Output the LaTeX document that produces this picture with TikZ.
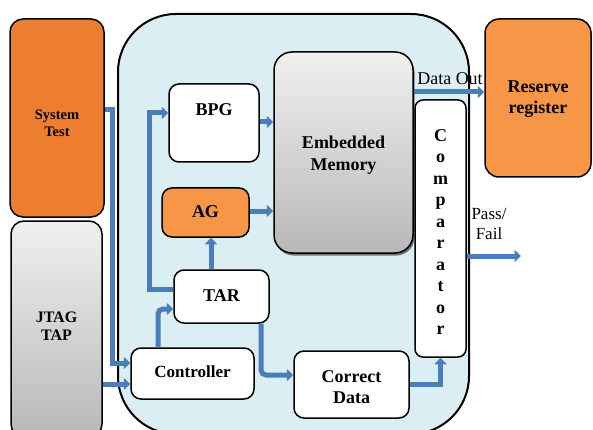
\documentclass[tikz,border=0pt]{standalone}
\usepackage{fontspec}
\setmainfont{Liberation Serif}
\usetikzlibrary{arrows.meta,calc,shadows}
\definecolor{orA}{HTML}{ED7D31}
\definecolor{orB}{HTML}{F79646}
\definecolor{ltblue}{HTML}{DAEEF3}
\definecolor{arrblue}{HTML}{4A7EBB}
\definecolor{gtop}{HTML}{F0F0F0}
\definecolor{gbot}{HTML}{B8B8B8}
\begin{document}
\begin{tikzpicture}[x=1pt,y=-1pt,
  box/.style={draw=black, line width=1.5pt, rounded corners=10pt, fill=white, inner sep=0pt},
  lbl/.style={font=\fontsize{18}{21}\selectfont\bfseries, align=center, inner sep=0pt},
  plain/.style={font=\fontsize{18}{20}\selectfont, align=center, inner sep=0pt},
  arr/.style={draw=arrblue, line width=5pt, -{Triangle[length=6.5pt,width=12pt]}},
  arrr/.style={arr, rounded corners=5pt}]
\clip (0,0) rectangle (593,430);
\useasboundingbox (0,0) rectangle (593,430);
% container
\node[box, fill=ltblue, rounded corners=58pt, line width=2pt, minimum width=351, minimum height=420] (cont) at (293.5,224) {};
% left blocks
\node[box, fill=orA, rounded corners=13pt, minimum width=94, minimum height=198] (sys) at (57,118) {};
\node[lbl, font=\fontsize{14.5}{17}\selectfont\bfseries] (syslbl) at (57,123) {System\\Test};
\node[box, top color=gtop, bottom color=gbot, rounded corners=13pt, minimum width=91, minimum height=216] (jtag) at (56.5,329) {};
\node[lbl, font=\fontsize{16}{18}\selectfont\bfseries] (jtaglbl) at (56.5,326) {JTAG\\TAP};
% inner blocks
\node[box, minimum width=90, minimum height=78] (bpg) at (214,123) {};
\node[lbl] (bpglbl) at (214,110) {BPG};
\node[box, fill=orB, minimum width=87, minimum height=49] (ag) at (205.5,212.5) {};
\node[lbl] (aglbl) at (205.5,212) {AG};
\node[box, top color=gtop, bottom color=gbot, rounded corners=18pt, minimum width=139, minimum height=201,
  drop shadow={shadow xshift=1.5pt, shadow yshift=-2.5pt, fill=black!55, opacity=1}] (mem) at (343.5,152.5) {};
\node[lbl, font=\fontsize{18}{22}\selectfont\bfseries] (memlbl) at (343.5,155) {Embedded\\Memory};
\node[box, rounded corners=8pt, minimum width=51, minimum height=257] (comp) at (440.5,228.5) {};
\node[lbl, font=\fontsize{18}{21.5}\selectfont\bfseries] (complbl) at (440.5,232) {C\\o\\m\\p\\a\\r\\a\\t\\o\\r};
\node[box, fill=orB, rounded corners=14pt, minimum width=106, minimum height=158] (res) at (538,98) {};
\node[lbl] (reslbl) at (538,99) {Reserve\\register};
\node[box, minimum width=95, minimum height=53] (tar) at (221.5,296.5) {};
\node[lbl] (tarlbl) at (221.5,296) {TAR};
\node[box, minimum width=123, minimum height=51] (ctrl) at (192.5,373.5) {};
\node[lbl, font=\fontsize{17}{20}\selectfont\bfseries] (ctrllbl) at (192.5,372) {Controller};
\node[box, minimum width=115, minimum height=67] (cd) at (351.5,384.5) {};
\node[lbl] (cdlbl) at (351.5,387) {Correct\\Data};
% connectors
\draw[arr] (sys.east |- 0,110) -| (112,363) -- (ctrl.west |- 0,363);
\draw[arr] (jtag.east |- 0,384) -- (ctrl.west |- 0,384);
\draw[arr] (tar.west |- 0,289) -| (149,113) -- (bpg.west |- 0,113);
\draw[arr] (tar.north -| 211,0) -- (ag.south -| 211,0);
\draw[arrr] (ctrl.north -| 158,0) |- (tar.west |- 0,309);
\draw[arrr] (tar.south -| 261,0) |- (cd.west |- 0,375);
\draw[arr] (cd.east) -| (comp.south);
\draw[arr] (bpg.east |- 0,122) -- (mem.west |- 0,122);
\draw[arr] (ag.east |- 0,211) -- (mem.west |- 0,211);
\draw[arr] (mem.east |- 0,92) -- (res.west |- 0,92);
\node[plain] (dolbl) at (450,79) {Data Out};
\coordinate (pfend) at (521,256);
\draw[arr] (comp.east |- pfend) -- (pfend);
\node[plain, font=\fontsize{17}{20}\selectfont] (pflbl) at (489,224) {Pass/\\Fail};
\end{tikzpicture}
\end{document}
